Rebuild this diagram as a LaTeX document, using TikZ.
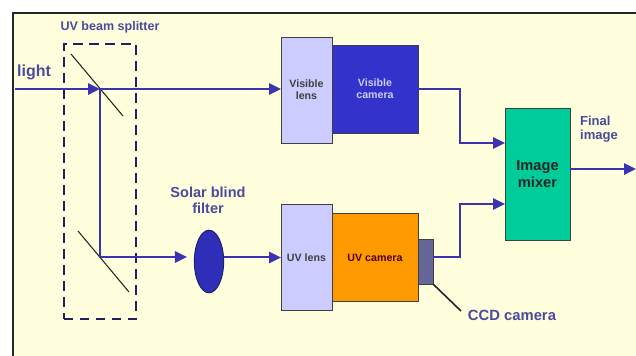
\documentclass[tikz,border=0pt]{standalone}
\usepackage{fontspec}
\setmainfont{Liberation Sans}
\definecolor{paper}{RGB}{255, 255, 221}
\definecolor{beam}{RGB}{58, 52, 176}
\definecolor{inkblue}{RGB}{74, 74, 158}
\definecolor{lensblue}{RGB}{204, 204, 255}
\definecolor{visblue}{RGB}{51, 51, 204}
\definecolor{uvorange}{RGB}{255, 153, 0}
\definecolor{ccdgray}{RGB}{102, 102, 153}
\definecolor{mixgreen}{RGB}{0, 204, 153}
\definecolor{navy}{RGB}{32, 32, 100}
\usetikzlibrary{arrows.meta, positioning, shapes.geometric}

\begin{document}
\begin{tikzpicture}[
    x=0.75pt, y=-0.75pt,
    box/.style={draw=black!75, line width=0.7pt, outer sep=0pt, inner sep=0pt, align=center, font=\bfseries\fontsize{8}{8.8}\selectfont, minimum width=#1},
    lens/.style={box=38.25pt, fill=lensblue, minimum height=79.5pt, text=black!75},
    camera/.style={box=64.5pt, minimum height=66pt},
    arrow/.style={-{Triangle[length=9pt, width=8.5pt]}, line width=1.5pt, beam},
    wire/.style={line width=1.5pt, beam},
    mirror/.style={line width=0.8pt, black!85},
    label/.style={font=\bfseries\fontsize{9.4}{10.5}\selectfont, text=inkblue, align=center},
  ]
  \useasboundingbox (0,0) rectangle (636,356);

  % Sheet
  \fill[paper] (13,14) rectangle (636,356);
  \draw[line width=1.5pt, black!85] (12.5,356) -- (12.5,13.5) -- (636,13.5);

  % Splitter
  \node[draw=navy, line width=1.5pt, dash pattern=on 7pt off 5pt, minimum width=54pt, minimum height=206pt, outer sep=0pt] (splitter) at (100,181.5) {};
  \coordinate (lightin) at (15,89);
  \coordinate (splittop) at (100,89);
  \coordinate (splitlow) at (100,257);
  \coordinate (mirroratop) at (71,54);
  \coordinate (mirrorabot) at (123,116);
  \coordinate (mirrorbtop) at (78,231);
  \coordinate (mirrorbbot) at (129,292);

  % Upper row
  \node[lens] (vislens) at (306.5,90) {Visible\\lens};
  \node[camera, fill=visblue, text=lensblue, right=0pt of vislens, yshift=0.75pt] (viscam) {Visible\\camera};

  % Lower row
  \node[draw=navy, line width=0.7pt, fill=visblue!90!black, ellipse, minimum width=22pt, minimum height=47pt, inner sep=0pt] (filter) at (209,261.5) {};
  \node[lens] (uvlens) at (306.5,257.5) {UV lens};
  \node[camera, fill=uvorange, text=black!70!red, right=0pt of uvlens] (uvcam) {UV camera};
  \node[box=11.25pt, fill=ccdgray, minimum height=33.75pt, right=0pt of uvcam, yshift=-3pt] (ccd) {};

  % Mixer
  \node[box=48.75pt, fill=mixgreen, minimum height=99pt, font=\bfseries\fontsize{11}{12.75}\selectfont, text=black!85] (mixer) at (537.5,174) {Image\\mixer};
  \coordinate (finalout) at (636,169);
  \coordinate (ccdend) at (461,311);

  % Labels
  \node[label] (splitlabel) at (110,27) {UV beam splitter};
  \node[label, font=\bfseries\fontsize{12}{14}\selectfont] (lightlabel) at (34,72) {light};
  \node[label, font=\bfseries\fontsize{10.9}{12}\selectfont] (filterlabel) at (208,200) {Solar blind\\filter};
  \node[label, align=left, font=\bfseries\fontsize{9.8}{10.5}\selectfont] (finallabel) at (599,129) {Final\\image};
  \node[label, font=\bfseries\fontsize{11.1}{13}\selectfont] (ccdlabel) at (512,315) {CCD camera};

  % Mirrors
  \draw[mirror] (mirroratop) -- (mirrorabot);
  \draw[mirror] (mirrorbtop) -- (mirrorbbot);

  % Arrows
  \draw[arrow] (lightin) -- (splittop);
  \draw[arrow] (splittop) -- (vislens.west |- splittop);
  \draw[wire] (splittop) -- (splitlow);
  \draw[arrow, shorten >=5.25pt] (splitlow) -- (filter.west |- splitlow);
  \draw[arrow] (filter.east |- uvlens.west) -- (uvlens.west);
  \draw[arrow] (viscam.east |- splittop) -| ++(42,54) -- (mixer.west |- 0,143);
  \draw[arrow] (ccd.east |- uvlens) -| ++(27,-53.5) -- (mixer.west |- 0,204);
  \draw[arrow] (mixer.east |- finalout) -- (finalout);
  \draw[line width=1.2pt, black!85] (ccd.south east) -- (ccdend);

\end{tikzpicture}
\end{document}
